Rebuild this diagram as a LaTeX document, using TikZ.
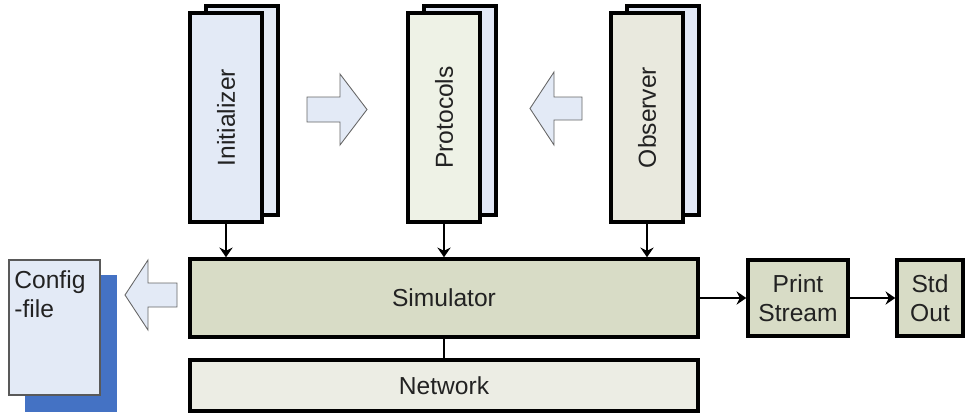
\documentclass[tikz,border=0pt]{standalone}
\usepackage{fontspec}
\setmainfont{Liberation Sans}
\usetikzlibrary{arrows.meta}

\definecolor{initblue}{HTML}{E3EAF6}
\definecolor{backblue}{HTML}{E2E8F6}
\definecolor{protgreen}{HTML}{EEF2E6}
\definecolor{obsgray}{HTML}{E9E9DE}
\definecolor{simolive}{HTML}{D8DCC6}
\definecolor{netlight}{HTML}{ECEDE4}
\definecolor{cfgblue}{HTML}{4472C4}
\definecolor{txtgray}{HTML}{222222}

\begin{document}
\begin{tikzpicture}[x=0.02cm,y=-0.02cm,
  font=\fontsize{14}{16.5}\selectfont, text=txtgray,
  pagebox/.style={draw=black,line width=2pt,minimum width=1.44cm,minimum height=4.18cm,inner sep=0pt},
  blockbox/.style={draw=black,line width=2pt,fill=simolive,inner sep=0pt,align=center},
  fatarrow/.style={draw=black!60,line width=0.5pt,fill=initblue,line join=miter},
  link/.style={line width=1.5pt,-{Stealth[length=5.5pt,width=7.5pt]}}]
\useasboundingbox (0,0) rectangle (966,413);
% plug-in pages
\node[pagebox,fill=initblue] (initback) at (242,110.5) {};
\node[pagebox,fill=initblue] (init) at (226,117.5) {};
\node[rotate=90] (initlabel) at (init.center) {Initializer};
\node[pagebox,fill=backblue] (protback) at (460,110.5) {};
\node[pagebox,fill=protgreen] (prot) at (444,117.5) {};
\node[rotate=90] (protlabel) at (prot.center) {Protocols};
\node[pagebox,fill=backblue] (obsback) at (663,110.5) {};
\node[pagebox,fill=obsgray] (obs) at (647,117.5) {};
\node[rotate=90] (obslabel) at (obs.center) {Observer};
% core blocks
\node[blockbox,minimum width=10.16cm,minimum height=1.56cm] (sim) at (444,298) {Simulator};
\node[blockbox,fill=netlight,minimum width=10.16cm,minimum height=1.02cm] (net) at (444,385.5) {Network};
\node[blockbox,minimum width=2cm,minimum height=1.52cm] (print) at (798,298) {Print\\Stream};
\node[blockbox,minimum width=1.32cm,minimum height=1.52cm] (stdout) at (930,298) {Std\\Out};
% config file
\node[fill=cfgblue,minimum width=1.84cm,minimum height=2.74cm,inner sep=0pt] (cfgback) at (71,343.5) {};
\node[draw=black!65,line width=0.8pt,fill=initblue,minimum width=1.82cm,minimum height=2.7cm,inner sep=0pt] (cfg) at (54.5,327.5) {};
\node[anchor=north west,align=left,inner sep=0pt] (cfglabel) at (14,270) {Config\\-file};
% fat arrows
\draw[fatarrow] (307,97) -- (340,97) -- (340,74) -- (367,109.5) -- (340,145) -- (340,122) -- (307,122) -- cycle;
\draw[fatarrow] (582,97) -- (554,97) -- (554,72) -- (530,108.5) -- (554,145) -- (554,120) -- (582,120) -- cycle;
\draw[fatarrow] (177,283) -- (148,283) -- (148,260) -- (125,295) -- (148,330) -- (148,307) -- (177,307) -- cycle;
% connectors
\draw[link] (init.south) -- (init.south |- sim.north);
\draw[link] (prot.south) -- (prot.south |- sim.north);
\draw[link] (obs.south) -- (obs.south |- sim.north);
\draw[line width=1.5pt] (sim.south) -- (net.north);
\draw[link] (sim.east) -- (print.west);
\draw[link] (print.east) -- (stdout.west);
\end{tikzpicture}
\end{document}
